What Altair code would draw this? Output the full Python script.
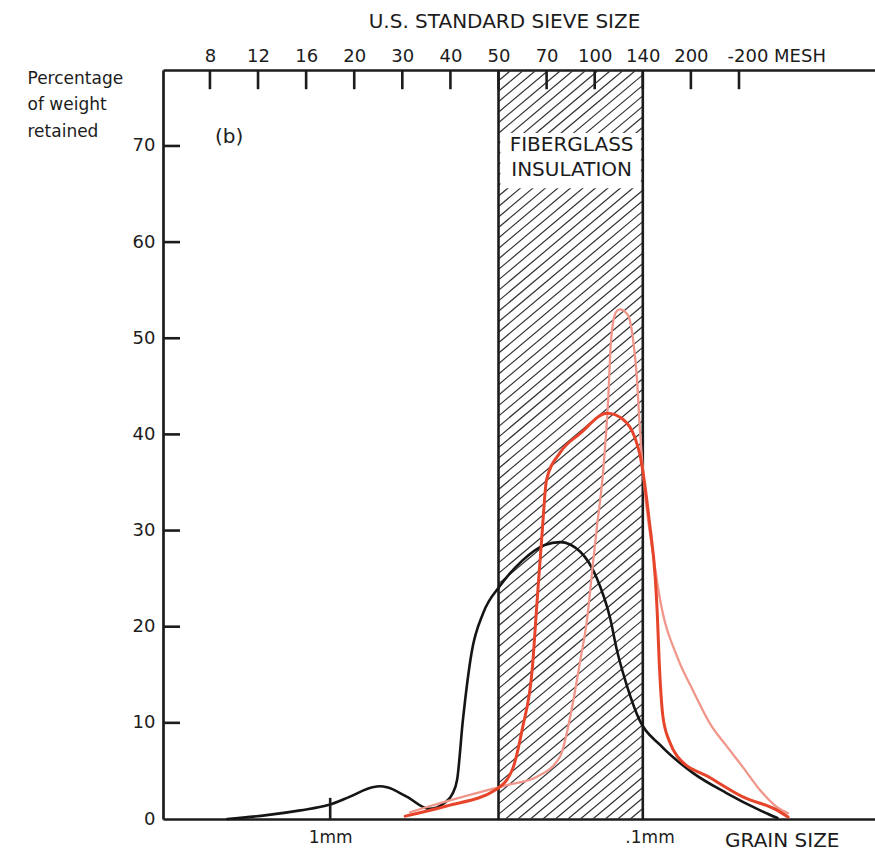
import altair as alt
import pandas as pd

# ---------------- data (grain size on a phi = -log2(mm) scale) ----------------
mesh_labels = ["8", "12", "16", "20", "30", "40", "50", "70", "100", "140", "200", "-200 MESH"]
mesh_phi = [-1.25, -0.75, -0.25, 0.25, 0.75, 1.25, 1.75, 2.25, 2.75, 3.25, 3.75, 4.25]
y_ticks = [10, 20, 30, 40, 50, 60, 70]
size_labels = ["1mm", ".1mm"]
size_phi = [0.0, 3.32]

black_phi = [-1.07, -0.66, -0.31, -0.02, 0.20, 0.44, 0.52, 0.59, 0.80, 1.03, 1.19, 1.27,
             1.32, 1.38, 1.47, 1.59, 1.77, 2.00, 2.23, 2.39, 2.60, 2.77, 2.91, 2.98, 3.09,
             3.22, 3.43, 3.77, 4.12, 4.47, 4.65]
black_pct = [0.0, 0.4, 0.9, 1.45, 2.3, 3.3, 3.4, 3.3, 2.3, 1.05, 1.7, 2.6,
             4.1, 10.3, 17.3, 21.4, 24.3, 26.9, 28.5, 28.8, 27.8, 25.1, 20.9, 17.6, 13.7,
             10.2, 7.7, 4.8, 2.7, 0.9, 0.1]

red_phi = [0.78, 1.21, 1.73, 1.90, 2.00, 2.10, 2.15, 2.20, 2.25, 2.39, 2.60, 2.88, 3.04,
           3.17, 3.22, 3.32, 3.38, 3.40, 3.42, 3.46, 3.53, 3.61, 3.95, 4.29, 4.65, 4.76]
red_pct = [0.3, 1.35, 3.1, 5.3, 9.5, 15.5, 22.5, 29.3, 35.3, 38.1, 40.1, 42.2, 41.6,
           39.6, 37.9, 30.8, 25.0, 21.5, 16.5, 10.6, 8.0, 6.5, 4.3, 2.3, 0.9, 0.2]

pink_phi = [0.83, 1.04, 1.56, 1.87, 2.15, 2.39, 2.52, 2.60, 2.67, 2.73, 2.77, 2.84, 2.89,
            2.92, 2.97, 3.01, 3.09, 3.15, 3.19, 3.22, 3.27, 3.36, 3.43, 3.61, 3.77, 3.95,
            4.12, 4.29, 4.47, 4.65, 4.76]
pink_pct = [0.7, 1.35, 2.8, 3.6, 4.4, 6.5, 11.9, 16.5, 20.7, 26.4, 30.1, 36.4, 43.6,
            49.8, 52.7, 53.0, 52.5, 49.8, 45.7, 40.5, 34.2, 27.3, 22.8, 16.8, 13.4, 9.9,
            7.6, 5.4, 3.0, 1.2, 0.6]

band = [1.75, 3.25]          # fiberglass insulation band (50 - 140 mesh)
band_text = ["FIBERGLASS", "INSULATION"]

# ---------------- scales / styling ----------------
X_MIN, X_MAX = -1.738, 5.664
Y_MAX = 77.9
FONT = "DejaVu Sans"
INK = "#1c1c1c"
xs = alt.Scale(domain=[X_MIN, X_MAX], nice=False, zero=False)
ys = alt.Scale(domain=[0, Y_MAX], nice=False, zero=False)


def X(field, axis=None):
    return alt.X(field, type="quantitative", scale=xs, axis=axis)


def Y(field, axis=None):
    return alt.Y(field, type="quantitative", scale=ys, axis=axis)


# hatch pattern inside the band (decorative diagonal lines, clipped to the band)
slope = 8.4     # pct units per phi unit (~40 deg on screen)
step = 1.09
hatch = []
v0 = -slope * (band[1] - band[0])
while v0 < Y_MAX:
    xa = max(band[0], band[0] + (0 - v0) / slope)
    xb = min(band[1], band[0] + (Y_MAX - v0) / slope)
    if xb > xa:
        hatch.append({"x": xa, "x2": xb,
                      "y": v0 + slope * (xa - band[0]), "y2": v0 + slope * (xb - band[0])})
    v0 += step
hatch_df = pd.DataFrame(hatch)

hatch_layer = alt.Chart(hatch_df).mark_rule(color="#333333", strokeWidth=1.2).encode(
    x=X("x"), x2="x2", y=Y("y"), y2="y2")

box_df = pd.DataFrame({"x": [band[0] + 0.02], "x2": [band[1] - 0.02], "y": [65.6], "y2": [71.35]})
box_layer = alt.Chart(box_df).mark_rect(color="white").encode(
    x=X("x"), x2="x2", y=Y("y"), y2="y2")

btext_df = pd.DataFrame({"t": band_text, "x": [2.51, 2.51], "y": [70.1, 67.5]})
btext_layer = alt.Chart(btext_df).mark_text(
    font=FONT, fontSize=20, color=INK, baseline="middle", align="center").encode(
    x=X("x"), y=Y("y"), text="t:N")

edge_df = pd.DataFrame({"x": band, "y": [0, 0], "y2": [Y_MAX, Y_MAX]})
edge_layer = alt.Chart(edge_df).mark_rule(color=INK, strokeWidth=2.6).encode(
    x=X("x"), y=Y("y"), y2="y2")

# curves
def curve(phi, pct, color, width):
    df = pd.DataFrame({"phi": phi, "pct": pct})
    return alt.Chart(df).mark_line(color=color, strokeWidth=width, interpolate="monotone",
                                   strokeCap="round", strokeJoin="round").encode(
        x=X("phi"), y=Y("pct"))

black_layer = curve(black_phi, black_pct, "#151515", 2.6)
pink_layer = curve(pink_phi, pink_pct, "#f0968a", 2.3)
red_layer = curve(red_phi, red_pct, "#e6452b", 3.0)

# axes ----------------------------------------------------------------------
label_expr_top = "[" + ",".join("'%s'" % s for s in mesh_labels) + "][indexof([" + \
    ",".join(str(v) for v in mesh_phi) + "], datum.value)]"
top_axis = alt.Axis(
    orient="top", values=mesh_phi, labelExpr=label_expr_top, tickSize=0, grid=False,
    domain=True, domainColor=INK, domainWidth=2.7, labelPadding=5,
    labelFont=FONT, labelFontSize=18, labelColor=INK, labelFlush=False, labelOverlap=False,
    labelAlign={"condition": {"test": "datum.value > 4", "value": "left"}, "value": "center"},
    labelOffset={"condition": {"test": "datum.value > 4", "value": -12}, "value": 0},
    title="U.S. STANDARD SIEVE SIZE", titleFont=FONT, titleFontSize=20,
    titleFontWeight="normal", titleColor=INK, titleX=341, titleY=-43,
    titleBaseline="alphabetic", titleAlign="center")

top_df = pd.DataFrame({"phi": mesh_phi, "y": [Y_MAX] * len(mesh_phi),
                       "y2": [Y_MAX - 2.0] * len(mesh_phi)})
top_ticks = alt.Chart(top_df).mark_rule(color=INK, strokeWidth=2.6).encode(
    x=X("phi", top_axis), y=Y("y"), y2="y2")

label_expr_bottom = "[" + ",".join("'%s'" % s for s in size_labels) + "][indexof([" + \
    ",".join(str(v) for v in size_phi) + "], datum.value)]"
bottom_axis = alt.Axis(
    orient="bottom", values=size_phi, labelExpr=label_expr_bottom, tickSize=0, grid=False,
    domain=True, domainColor=INK, domainWidth=2.7, labelPadding=10,
    labelFont=FONT, labelFontSize=17, labelColor=INK, labelFlush=False, labelOverlap=False,
    title=None)
bt_df = pd.DataFrame({"phi": [size_phi[0]], "y": [0.0], "y2": [2.2]})
bottom_tick = alt.Chart(bt_df).mark_rule(color=INK, strokeWidth=2.6).encode(
    x=X("phi", bottom_axis), y=Y("y"), y2="y2")

left_axis = alt.Axis(
    orient="left", values=[0] + y_ticks, tickSize=0, grid=False, domain=True,
    domainColor=INK, domainWidth=2.7, labelPadding=8, labelFont=FONT, labelFontSize=18,
    labelColor=INK,
    title=["Percentage", "of weight", "retained"], titleFont=FONT, titleFontSize=17,
    titleFontWeight="normal", titleColor=INK, titleAngle=0, titleAlign="left",
    titleBaseline="alphabetic", titleX=-136, titleY=13, titleLineHeight=26.5)
yt_df = pd.DataFrame({"v": y_ticks, "x": [X_MIN] * len(y_ticks),
                      "x2": [X_MIN + 0.177] * len(y_ticks)})
y_tick_layer = alt.Chart(yt_df).mark_rule(color=INK, strokeWidth=2.6).encode(
    y=Y("v", left_axis), x=X("x"), x2="x2")

# free texts
misc_df = pd.DataFrame({"t": ["(b)"], "x": [-1.05], "y": [70.9]})
misc_layer = alt.Chart(misc_df).mark_text(
    font=FONT, fontSize=20, color=INK, baseline="middle", align="center").encode(
    x=X("x"), y=Y("y"), text="t:N")

grain_df = pd.DataFrame({"t": ["GRAIN SIZE"], "x": [4.70], "y": [-2.9]})
grain_layer = alt.Chart(grain_df).mark_text(
    font=FONT, fontSize=20, color=INK, baseline="alphabetic", align="center").encode(
    x=X("x"), y=Y("y"), text="t:N")

chart = alt.layer(
    hatch_layer, box_layer, btext_layer, edge_layer,
    black_layer, pink_layer, red_layer,
    top_ticks, bottom_tick, y_tick_layer, misc_layer, grain_layer
).resolve_axis(x="independent", y="independent").properties(
    width=712, height=749, autosize="none",
    padding={"left": 163, "top": 70, "right": 0, "bottom": 40},
    background="white"
).configure_view(stroke=None)

chart.save("out.html", embed_options={"renderer": "svg", "actions": False})
